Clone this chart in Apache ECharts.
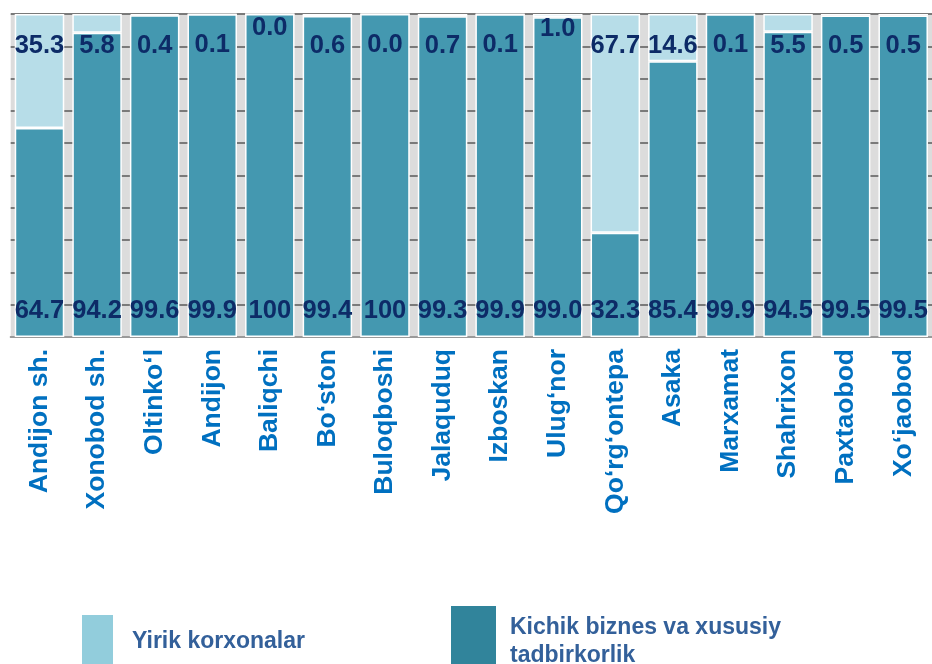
<!DOCTYPE html>
<html>
<head>
<meta charset="utf-8">
<script src="https://cdn.jsdelivr.net/npm/echarts@6/dist/echarts.min.js"></script>
<style>
html,body{margin:0;padding:0;background:#fff;}
#main{width:932px;height:664px;}
</style>
</head>
<body>
<div id="main"></div>
<script>
var districts=['Andijon sh.','Xonobod sh.','Oltinko\u2018l','Andijon','Baliqchi','Bo\u2018ston','Buloqboshi','Jalaquduq','Izboskan','Ulug\u2018nor','Qo\u2018rg\u2018ontepa','Asaka','Marxamat','Shahrixon','Paxtaobod','Xo\u2018jaobod'];
var yirik=[35.3,5.8,0.4,0.1,0.0,0.6,0.0,0.7,0.1,1.0,67.7,14.6,0.1,5.5,0.5,0.5];
var kichik=[64.7,94.2,99.6,99.9,100,99.4,100,99.3,99.9,99.0,32.3,85.4,99.9,94.5,99.5,99.5];
var nameYirik='Yirik korxonalar';
var nameKichik='Kichik biznes va xususiy tadbirkorlik';

var font='"Liberation Sans", Arial, sans-serif';
// labels that sit higher up in the picture
var lifted=[4,9];

function fmt(v){
	return v===100 ? '100' : v.toFixed(1);
}

var myChart=echarts.init(document.getElementById('main'));

var yirikData=yirik.map(function(v,i){
	var item={value:v};
	if(lifted.indexOf(i)>-1){
		item.label={distance:2};
	}
	return item;
});

option={
	animation:false,
	grid:{
		left:10.7,
		right:-10.5,
		top:14,
		bottom:327,
		show:true,
		backgroundColor:'#dcdcdc',
		borderWidth:0
	},
	legend:[
		{
			left:80,
			top:613,
			padding:0,
			itemWidth:33,
			itemHeight:56,
			icon:'rect',
			selectedMode:false,
			data:[{name:nameYirik,itemStyle:{color:'#92cddc'}}],
			textStyle:{
				color:'#33609a',
				fontFamily:font,
				fontWeight:'bold',
				fontSize:23,
				padding:[0,0,0,13]
			}
		},
		{
			left:449,
			top:604,
			padding:0,
			itemWidth:47,
			itemHeight:74,
			icon:'rect',
			selectedMode:false,
			data:[{name:nameKichik,itemStyle:{color:'#31849b'}}],
			formatter:function(){
				return 'Kichik biznes va xususiy\ntadbirkorlik';
			},
			textStyle:{
				color:'#33609a',
				fontFamily:font,
				fontWeight:'bold',
				fontSize:23,
				lineHeight:28,
				padding:[0,0,0,8]
			}
		}
	],
	xAxis:[
		{
			type:'category',
			data:districts,
			axisLine:{lineStyle:{color:'#9a9a9a',width:2}},
			axisTick:{length:7,lineStyle:{color:'#8a8a8a',width:1.5}},
			axisLabel:{
				rotate:90,
				margin:12,
				color:'#0070c0',
				fontFamily:font,
				fontWeight:'bold',
				fontSize:26.5
			}
		},
		{
			type:'category',
			data:districts,
			position:'bottom',
			z:5,
			axisLine:{show:false},
			axisTick:{inside:true,alignWithLabel:true,length:5,lineStyle:{color:'#8a8a8a',width:1}},
			axisLabel:{show:false}
		}
	],
	yAxis:{
		type:'value',
		min:0,
		max:100,
		interval:10,
		axisLabel:{show:false},
		axisLine:{show:false},
		axisTick:{show:false},
		splitLine:{lineStyle:{color:'#7a7a7a',width:2}}
	},
	series:[
		{
			name:nameKichik,
			type:'bar',
			stack:'total',
			barCategoryGap:'14%',
			data:kichik,
			itemStyle:{color:'#4498b0',borderColor:'#ffffff',borderWidth:1.5},
			label:{
				show:true,
				position:'insideBottom',
				distance:13,
				formatter:function(p){return fmt(p.value);},
				color:'#0d2b67',
				fontFamily:font,
				fontWeight:'bold',
				fontSize:25.5
			}
		},
		{
			name:nameYirik,
			type:'bar',
			stack:'total',
			data:yirikData,
			itemStyle:{color:'#b7dde8',borderColor:'#ffffff',borderWidth:1.5},
			label:{
				show:true,
				position:'insideTop',
				distance:19,
				formatter:function(p){return fmt(p.value);},
				color:'#0d2b67',
				fontFamily:font,
				fontWeight:'bold',
				fontSize:25.5
			}
		}
	]
};

myChart.setOption(option);
window.onresize=myChart.resize;
</script>
</body>
</html>
